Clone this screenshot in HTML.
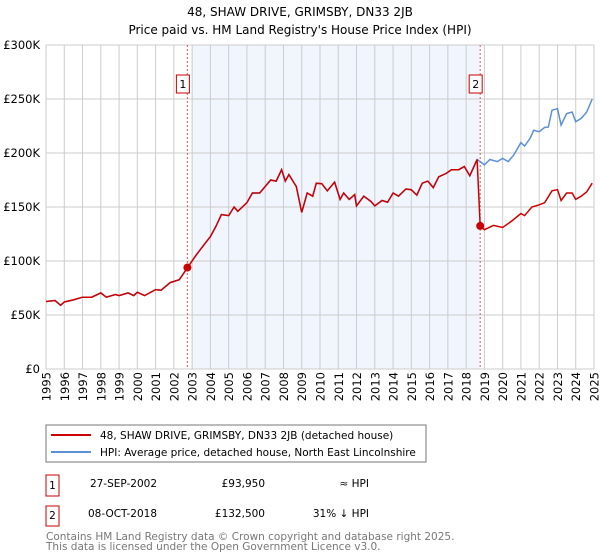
<!DOCTYPE html>
<html><head><meta charset="utf-8"><style>
body{margin:0;width:600px;height:560px;background:#fff;font-family:"DejaVu Sans","Liberation Sans",sans-serif;overflow:hidden}
svg{position:absolute;left:0;top:0}
</style></head><body>
<svg id="c" width="600" height="560">
<text x="300" y="16" text-anchor="middle" font-size="12">48, SHAW DRIVE, GRIMSBY, DN33 2JB</text>
<text x="300" y="34" text-anchor="middle" font-size="12">Price paid vs. HM Land Registry's House Price Index (HPI)</text>
<g id="plot"></g>
<g>
<rect x="46" y="425" width="380" height="37" fill="#fff" stroke="#777"/>
<line x1="51" y1="435" x2="91" y2="435" stroke="#cc0000" stroke-width="2"/>
<text x="100" y="439" font-size="10.5">48, SHAW DRIVE, GRIMSBY, DN33 2JB (detached house)</text>
<line x1="51" y1="452" x2="91" y2="452" stroke="#5b8fd6" stroke-width="2"/>
<text x="100" y="456" font-size="10.5">HPI: Average price, detached house, North East Lincolnshire</text>
</g>
<g font-size="10.5">
<rect x="46" y="475" width="13" height="21" fill="#fff" stroke="#cc0000"/>
<text x="52.5" y="489" text-anchor="middle">1</text>
<text x="157" y="487" text-anchor="end">27-SEP-2002</text>
<text x="265" y="487" text-anchor="end">£93,950</text>
<text x="369" y="487" text-anchor="end">≈ HPI</text>
<rect x="46" y="506" width="13" height="20" fill="#fff" stroke="#cc0000"/>
<text x="52.5" y="519" text-anchor="middle">2</text>
<text x="157" y="517" text-anchor="end">08-OCT-2018</text>
<text x="265" y="517" text-anchor="end">£132,500</text>
<text x="369" y="517" text-anchor="end">31% ↓ HPI</text>
</g>
<text x="46" y="540" font-size="10.5" fill="#777">Contains HM Land Registry data © Crown copyright and database right 2025.</text>
<text x="46" y="550" font-size="10.5" fill="#777">This data is licensed under the Open Government Licence v3.0.</text>
</svg>
<script>
const preYears=[1995,1995.5,1995.8,1996,1996.5,1997,1997.5,1998,1998.3,1998.8,1999,1999.5,1999.8,2000,2000.4,2001,2001.3,2001.8,2002.3,2002.75,2003.2,2003.6,2004,2004.3,2004.6,2005,2005.3,2005.5,2006,2006.3,2006.7,2007,2007.3,2007.6,2007.9,2008.1,2008.3,2008.7,2009,2009.3,2009.6,2009.8,2010.1,2010.4,2010.8,2011.1,2011.3,2011.6,2011.9,2012,2012.4,2012.8,2013,2013.4,2013.7,2014,2014.3,2014.7,2015,2015.3,2015.6,2015.9,2016.2,2016.5,2016.9,2017.2,2017.6,2017.9,2018.2,2018.6];
const preValues=[62.5,63.4,59,62,64,66.5,66.5,70.5,66.5,69,68,70.5,68,71,68,73.5,73,80,82.7,94,105,114,122.6,132,143,142,150,146,154,163,163,169,175,174,184.5,174,180,169,145,163,160,172,171.6,165,173,157,163,157,161.5,151,160,155,151,156,154.4,163,160,166.7,166,161,172,174,168,178,181,184.5,184.5,187.5,179,194];
const hpiPostYears=[2018.77,2019,2019.3,2019.7,2020,2020.3,2020.6,2021,2021.2,2021.5,2021.7,2022,2022.3,2022.5,2022.7,2023,2023.2,2023.5,2023.8,2024,2024.3,2024.6,2024.9];
const hpiPostValues=[192,189,194,192,195,192,198,209.6,206.5,213.6,221,219.7,223.7,224,239.6,241,225.8,236.5,238,228.9,232,238,250];
const pricePostYears=[2018.77,2019,2019.5,2020,2020.5,2021,2021.2,2021.6,2022,2022.3,2022.7,2023,2023.2,2023.5,2023.8,2024,2024.3,2024.6,2024.9];
const pricePostValues=[132.5,129,133,131,137,144,142,150,152,154,165,166,156,163,163,157,160,164,172];
const saleYears=[2002.74,2018.77];
const saleValues=[93.95,132.5];
const yTicks=[0,50,100,150,200,250,300];
const yLabels=["£0","£50K","£100K","£150K","£200K","£250K","£300K"];
const NS="http://www.w3.org/2000/svg";
const X0=46,X1=594,Y0=369,Y1=45;
const sx=y=>X0+(y-1995)/30*(X1-X0);
const sy=v=>Y0-v/300*(Y0-Y1);
const g=document.getElementById('plot');
function mk(t,a){const e=document.createElementNS(NS,t);for(const k in a)e.setAttribute(k,a[k]);g.appendChild(e);return e;}
const sh=mk('rect',{x:sx(2003),y:Y1,width:sx(2018.77)-sx(2003),height:Y0-Y1,fill:'#eef3fd',opacity:0.8});


for(let yr=1995;yr<=2025;yr++){
 const l=mk('line',{x1:sx(yr),x2:sx(yr),y1:Y1,y2:Y0,stroke:'#ccc'});
 
 
 const t=mk('text',{transform:`translate(${sx(yr)+4.5},${Y0+3}) rotate(-90)`,'text-anchor':'end','font-size':11.5});
 t.textContent=yr;
 
 
}
yTicks.forEach((v,i)=>{
 const l=mk('line',{x1:X0,x2:X1,y1:sy(v),y2:sy(v),stroke:'#ccc'});
 
 
 const t=mk('text',{x:X0-6,y:sy(v)+4,'text-anchor':'end','font-size':11.5});
 t.textContent=yLabels[i];
 
 
});
saleYears.forEach((yr,i)=>{
 const l=mk('line',{x1:sx(yr),x2:sx(yr),y1:Y1,y2:Y0,stroke:'#e55',"stroke-dasharray":'2,2'});
 
 
 const r=mk('rect',{x:sx(yr)-11,y:75,width:13,height:18,fill:'#fff',stroke:'#cc0000'});
 
 
 const t=mk('text',{x:sx(yr)-4.5,y:88,'text-anchor':'middle','font-size':11});
 t.textContent=String(i+1);
 
 
});
function pts(xs,vs){return xs.map((x,i)=>sx(x).toFixed(1)+','+sy(vs[i]).toFixed(1)).join(' ');}
const hpi=mk('polyline',{points:pts(preYears.concat(hpiPostYears),preValues.concat(hpiPostValues)),fill:'none',stroke:'#5b8fd6','stroke-width':1.5});


const pr=mk('polyline',{points:pts(preYears.concat(pricePostYears),preValues.concat(pricePostValues)),fill:'none',stroke:'#cc0000','stroke-width':1.5});


saleYears.forEach((yr,i)=>{
 const c=mk('circle',{cx:sx(yr),cy:sy(saleValues[i]),r:4,fill:'#cc0000'});
 
 
});
</script>
</body></html>
